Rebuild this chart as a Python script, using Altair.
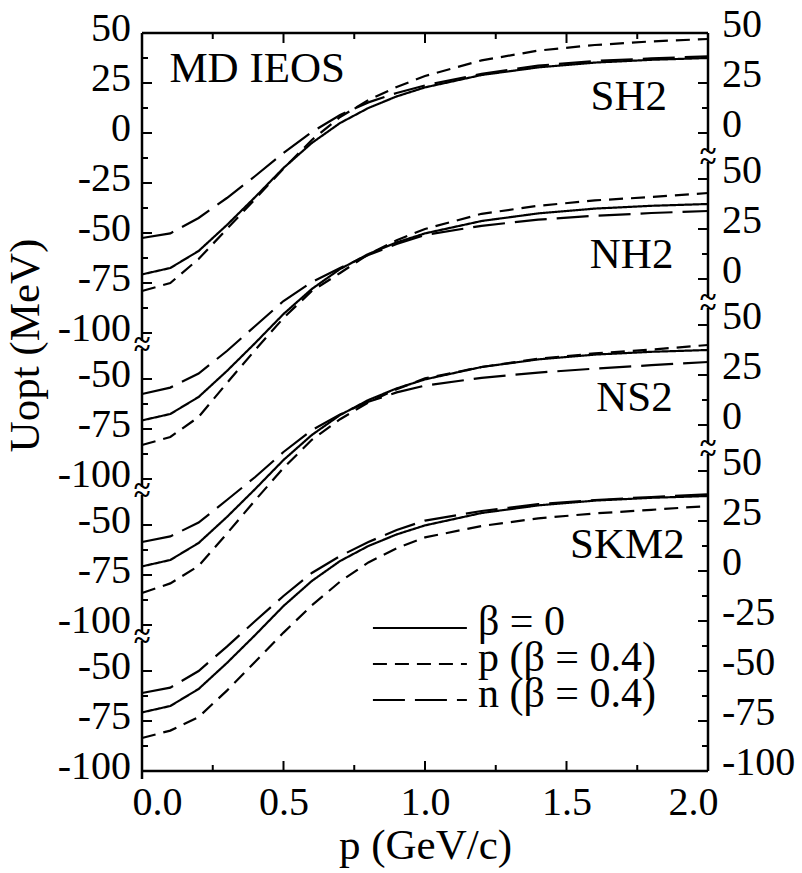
import altair as alt
import pandas as pd

# ---------------- data ----------------
P = [0.0, 0.1, 0.2, 0.3, 0.4, 0.5, 0.6, 0.7, 0.8, 0.9, 1.0, 1.2, 1.4, 1.6, 1.8, 2.0]
BETA0 = [-70.7, -67.5, -59.0, -46.0, -32.0, -17.5, -5.0, 5.0, 12.5, 18.3, 22.8, 29.0, 32.8, 35.2, 36.6, 37.5]
SH2_P = [-79.0, -75.0, -63.0, -48.0, -33.0, -17.8, -3.5, 8.0, 16.5, 23.0, 28.5, 36.3, 41.2, 44.0, 45.8, 47.0]
SH2_N = [-52.5, -50.2, -42.5, -32.5, -21.5, -10.0, 0.5, 9.0, 15.3, 20.0, 23.8, 29.6, 33.7, 36.0, 37.3, 38.3]
NH2_P = [-83.0, -79.0, -69.0, -52.0, -35.5, -19.5, -6.0, 3.0, 12.3, 19.4, 25.0, 32.6, 36.6, 39.3, 41.0, 43.0]
NH2_N = [-57.5, -54.3, -47.3, -36.0, -23.5, -11.0, -1.5, 5.5, 12.0, 17.5, 22.0, 26.6, 29.7, 31.6, 33.0, 34.0]
NS2_P = [-84.0, -79.2, -70.5, -54.3, -37.6, -21.5, -7.4, 2.9, 11.3, 17.9, 23.3, 29.0, 33.1, 35.8, 37.7, 40.0]
NS2_N = [-58.5, -55.7, -48.8, -37.5, -26.0, -13.5, -2.6, 5.3, 11.6, 16.3, 19.7, 23.6, 26.2, 28.2, 29.9, 31.5]
SKM2_P = [-83.5, -79.8, -73.0, -59.8, -45.4, -30.8, -17.2, -5.3, 4.3, 11.4, 16.8, 22.5, 26.3, 28.8, 30.6, 32.5]
SKM2_N = [-61.0, -58.3, -50.0, -37.8, -25.0, -12.5, -1.0, 7.5, 14.5, 20.5, 25.2, 30.0, 33.4, 35.5, 37.0, 38.3]

PANELS = ["SH2", "NH2", "NS2", "SKM2"]
PANEL_P = [SH2_P, NH2_P, NS2_P, SKM2_P]
PANEL_N = [SH2_N, NH2_N, NS2_N, SKM2_N]

KINDS = ["β = 0", "p (β = 0.4)", "n (β = 0.4)"]

# axis tick labels per panel (left side shows the lower part, right side the upper part)
LEFT_LABELS = [[50, 25, 0, -25, -50, -75, -100], [-50, -75, -100], [-50, -75, -100], [-50, -75, -100]]
RIGHT_LABELS = [[50, 25, 0], [50, 25, 0], [50, 25, 0], [50, 25, 0, -25, -50, -75, -100]]
LEFT_MINOR = [[37.5, 12.5, -12.5, -37.5, -62.5, -87.5], [-62.5, -87.5], [-62.5, -87.5], [-62.5, -87.5]]
RIGHT_MINOR = [[37.5, 12.5], [37.5, 12.5], [37.5, 12.5], [37.5, 12.5, -12.5, -37.5, -62.5, -87.5]]
LEFT_RANGE = [(50, -104), (-35, -104), (-35, -104), (-35, -104)]
RIGHT_RANGE = [(50, -9.5), (58.5, -9.5), (58.5, -9.5), (58.5, -100)]
X_MAJOR = [0.5, 1.0, 1.5]
X_MINOR = [0.25, 0.75, 1.25, 1.75]
X_LABELS = [0.0, 0.5, 1.0, 1.5, 2.0]

SHIFT = 73  # MeV between stacked panels

# ---------------- layout / style ----------------
W, H = 566, 738
FONT = "Liberation Serif"
TICK_FS = 40
TEXT_FS = 43
LEG_FS = 42
DASHES = [[1, 0], [14, 8], [32, 10]]

# ---------------- tables ----------------
rows = []
for k, name in enumerate(PANELS):
    for kind, vals in zip(KINDS, [BETA0, PANEL_P[k], PANEL_N[k]]):
        for p, v in zip(P, vals):
            rows.append({"panel": name, "kind": kind, "p": p, "Y": v - SHIFT * k})
curves_df = pd.DataFrame(rows)

def tick_df(lists):
    out = []
    for k, vals in enumerate(lists):
        for v in vals:
            out.append({"Y": v - SHIFT * k, "label": str(int(v)) if float(v).is_integer() else str(v)})
    return pd.DataFrame(out)

left_lab = tick_df(LEFT_LABELS)
right_lab = tick_df(RIGHT_LABELS)
left_min = tick_df(LEFT_MINOR)
right_min = tick_df(RIGHT_MINOR)

left_sec = pd.DataFrame([{"Y": a - SHIFT * k, "Ybot": b - SHIFT * k} for k, (a, b) in enumerate(LEFT_RANGE)])
right_sec = pd.DataFrame([{"Y": a - SHIFT * k, "Ybot": b - SHIFT * k} for k, (a, b) in enumerate(RIGHT_RANGE)])

left_breaks = pd.DataFrame({"Y": list(left_sec["Y"][1:]) + list(left_sec["Ybot"][:-1])})
right_breaks = pd.DataFrame({"Y": list(right_sec["Y"][1:]) + list(right_sec["Ybot"][:-1])})

xmaj = pd.DataFrame({"p": X_MAJOR})
xmin = pd.DataFrame({"p": X_MINOR})

ann_df = pd.DataFrame({
    "text": ["MD IEOS", "SH2", "NH2", "NS2", "SKM2"],
    "p": [0.407, 1.72, 1.73, 1.74, 1.715],
    "Y": [32, 18, -61, -132.5, -206],
})

leg_df = pd.DataFrame({
    "kind": KINDS,
    "Y": [-247.5, -265.5, -283.5],
    "p": [0.816] * 3,
    "p2": [1.148] * 3,
    "tx": [1.187] * 3,
})

xs = alt.Scale(domain=[0, 2], nice=False, zero=False)
ys = alt.Scale(domain=[-319, 50], nice=False, zero=False)
dash_scale = alt.Scale(domain=KINDS, range=DASHES)

XAX = alt.Axis(
    values=X_LABELS, format=".1f", ticks=False, domain=False, grid=False,
    labelFont=FONT, labelFontSize=TICK_FS, labelColor="black", labelPadding=11,
    labelFlush=True, labelFlushOffset=10,
    title="p (GeV/c)", titleFont=FONT, titleFontSize=TEXT_FS, titleFontWeight="normal",
    titleColor="black", titlePadding=2)
YAX = alt.Axis(
    labels=False, ticks=False, domain=False, grid=False,
    title="Uopt (MeV)", titleFont=FONT, titleFontSize=TEXT_FS, titleFontWeight="normal",
    titleColor="black", titleX=-117, titleY=312, titleBaseline="middle")


def X(field="p"):
    return alt.X(f"{field}:Q", scale=xs, axis=XAX, title="p (GeV/c)")


def Y(field="Y"):
    return alt.Y(f"{field}:Q", scale=ys, axis=YAX, title="Uopt (MeV)")


curves = alt.Chart(curves_df).mark_line(color="black", strokeWidth=2.2).encode(
    x=X(), y=Y(),
    strokeDash=alt.StrokeDash("kind:N", scale=dash_scale, legend=None),
    detail="panel:N",
)


def yrule(df, x0, x1, sw=2):
    return alt.Chart(df).mark_rule(color="black", strokeWidth=sw).encode(
        y=Y(), x=alt.value(x0), x2=alt.value(x1))


def xrule(df, y0, y1, sw=2):
    return alt.Chart(df).mark_rule(color="black", strokeWidth=sw).encode(
        x=X(), y=alt.value(y0), y2=alt.value(y1))


one = pd.DataFrame({"a": [0]})
frame_top = alt.Chart(one).mark_rule(color="black", strokeWidth=2.5).encode(
    x=alt.value(0), x2=alt.value(W), y=alt.value(0))
frame_bot = alt.Chart(one).mark_rule(color="black", strokeWidth=2.5).encode(
    x=alt.value(0), x2=alt.value(W), y=alt.value(H))


def sections(df, xpos):
    return alt.Chart(df).mark_rule(color="black", strokeWidth=2.5).encode(
        x=alt.value(xpos), y=Y(), y2="Ybot:Q")


def breaks(df, xpos):
    return alt.Chart(df).mark_text(text="~", font=FONT, fontSize=30, fontWeight="bold",
                                   align="center", baseline="middle", color="black").encode(
        x=alt.value(xpos), y=Y())


left_labels = alt.Chart(left_lab).mark_text(font=FONT, fontSize=TICK_FS, align="right",
                                            baseline="middle", dy=-4, color="black").encode(
    x=alt.value(-11), y=Y(), text="label:N")
right_labels = alt.Chart(right_lab).mark_text(font=FONT, fontSize=TICK_FS, align="left",
                                              baseline="middle", dy=-8, color="black").encode(
    x=alt.value(W + 14), y=Y(), text="label:N")

ann = alt.Chart(ann_df).mark_text(font=FONT, fontSize=TEXT_FS, align="center",
                                  baseline="middle", color="black").encode(
    x=X(), y=Y(), text="text:N")

leg_lines = alt.Chart(leg_df).mark_rule(color="black", strokeWidth=2.2).encode(
    x=X(), x2="p2:Q", y=Y(),
    strokeDash=alt.StrokeDash("kind:N", scale=dash_scale, legend=None))
leg_text = alt.Chart(leg_df).mark_text(font=FONT, fontSize=LEG_FS, align="left",
                                       baseline="middle", dy=-6, color="black").encode(
    x=X("tx"), y=Y(), text="kind:N")

chart = alt.layer(
    curves,
    frame_top, frame_bot,
    sections(left_sec, 0), sections(right_sec, W),
    yrule(left_lab, 0, 10), yrule(left_min, 0, 6),
    yrule(right_lab, W, W - 10), yrule(right_min, W, W - 6),
    xrule(xmaj, 0, 10), xrule(xmin, 0, 6),
    xrule(xmaj, H, H - 10), xrule(xmin, H, H - 6),
    breaks(left_breaks, 0), breaks(right_breaks, W),
    left_labels, right_labels,
    ann, leg_lines, leg_text,
).properties(
    width=W, height=H,
    autosize=alt.AutoSizeParams(type="none"),
    padding={"left": 142, "top": 33, "right": 94, "bottom": 102},
    background="white",
).configure_view(stroke=None)

chart.save("out.html", embed_options={"renderer": "svg", "actions": False})
